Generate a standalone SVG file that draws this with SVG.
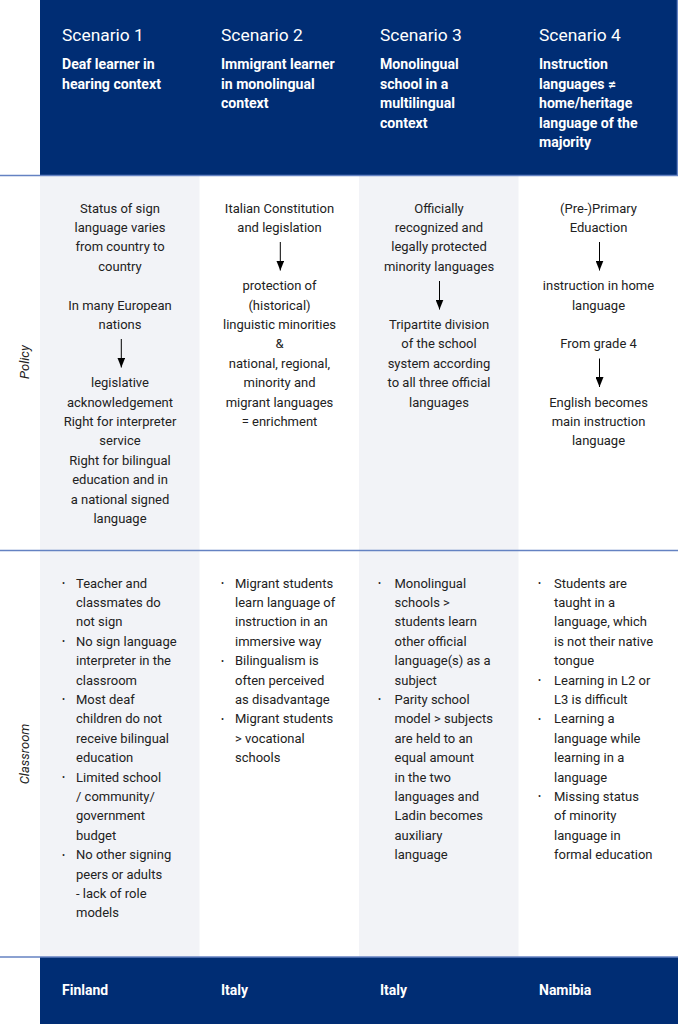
<svg xmlns="http://www.w3.org/2000/svg" width="678" height="1024" viewBox="0 0 678 1024">
<defs>
<style>
text{font-family:Roboto,"Liberation Sans",Arial,sans-serif;}
.title{font-size:17.4px;fill:#ffffff;}
.sub{font-size:14.1px;font-weight:700;fill:#ffffff;}
.body{font-size:13px;fill:#222222;}
.c{text-anchor:middle;}
.bul{font-size:9px;fill:#222222;}
.foot{font-size:14px;font-weight:700;fill:#ffffff;}
.lab{font-size:13px;font-style:italic;fill:#222222;text-anchor:middle;}
.navy{fill:#002d74;}
.grey{fill:#f2f3f7;}
.rule{stroke:#6482c2;stroke-width:1.3;fill:none;}
.arr{stroke:#000000;stroke-width:1;fill:none;marker-end:url(#ah);}
</style>
<marker id="ah" markerUnits="userSpaceOnUse" viewBox="0 -4 10 8" refX="10" refY="0" markerWidth="10" markerHeight="8" orient="auto">
<path d="M0,-4 L10,0 L0,4 z" fill="#000000"/>
</marker>
</defs>
<rect width="678" height="1024" fill="#ffffff"/>
<g id="background">
<rect class="grey" x="40" y="175" width="159.5" height="782"/>
<rect class="grey" x="359" y="175" width="159.5" height="782"/>
<rect class="navy" x="40" y="0" width="638" height="175.5"/>
<rect class="navy" x="40" y="957" width="638" height="67"/>
<line class="rule" x1="677.4" y1="0" x2="677.4" y2="175.5"/>
<line class="rule" x1="0" y1="175.5" x2="678" y2="175.5"/>
<line class="rule" x1="0" y1="550.5" x2="678" y2="550.5"/>
<line class="rule" x1="0" y1="957" x2="678" y2="957"/>
</g>
<g id="row-labels">
<text class="lab" transform="translate(29,362) rotate(-90)">Policy</text>
<text class="lab" transform="translate(29,754) rotate(-90)">Classroom</text>
</g>
<g id="header-1">
<text class="title" x="62" y="40.7">Scenario 1</text>
<text class="sub" x="62" y="69">Deaf learner in</text>
<text class="sub" x="62" y="88.5">hearing context</text>
</g>
<g id="header-2">
<text class="title" x="221" y="40.7">Scenario 2</text>
<text class="sub" x="221" y="69">Immigrant learner</text>
<text class="sub" x="221" y="88.5">in monolingual</text>
<text class="sub" x="221" y="108">context</text>
</g>
<g id="header-3">
<text class="title" x="380" y="40.7">Scenario 3</text>
<text class="sub" x="380" y="69">Monolingual</text>
<text class="sub" x="380" y="88.5">school in a</text>
<text class="sub" x="380" y="108">multilingual</text>
<text class="sub" x="380" y="127.5">context</text>
</g>
<g id="header-4">
<text class="title" x="539" y="40.7">Scenario 4</text>
<text class="sub" x="539" y="69">Instruction</text>
<text class="sub" x="539" y="88.5">languages ≠</text>
<text class="sub" x="539" y="108">home/heritage</text>
<text class="sub" x="539" y="127.5">language of the</text>
<text class="sub" x="539" y="147">majority</text>
</g>
<g id="policy-1">
<text class="body c" x="120" y="212.6">Status of sign</text>
<text class="body c" x="120" y="232">language varies</text>
<text class="body c" x="120" y="251.4">from country to</text>
<text class="body c" x="120" y="270.8">country</text>
<text class="body c" x="120" y="309.6">In many European</text>
<text class="body c" x="120" y="329">nations</text>
<text class="body c" x="120" y="387.2">legislative</text>
<text class="body c" x="120" y="406.6">acknowledgement</text>
<text class="body c" x="120" y="426">Right for interpreter</text>
<text class="body c" x="120" y="445.4">service</text>
<text class="body c" x="120" y="464.8">Right for bilingual</text>
<text class="body c" x="120" y="484.2">education and in</text>
<text class="body c" x="120" y="503.6">a national signed</text>
<text class="body c" x="120" y="523">language</text>
</g>
<g id="policy-2">
<text class="body c" x="279.5" y="212.6">Italian Constitution</text>
<text class="body c" x="279.5" y="232">and legislation</text>
<text class="body c" x="279.5" y="290.2">protection of</text>
<text class="body c" x="279.5" y="309.6">(historical)</text>
<text class="body c" x="279.5" y="329">linguistic minorities</text>
<text class="body c" x="279.5" y="348.4">&amp;</text>
<text class="body c" x="279.5" y="367.8">national, regional,</text>
<text class="body c" x="279.5" y="387.2">minority and</text>
<text class="body c" x="279.5" y="406.6">migrant languages</text>
<text class="body c" x="279.5" y="426">= enrichment</text>
</g>
<g id="policy-3">
<text class="body c" x="439" y="212.6">Officially</text>
<text class="body c" x="439" y="232">recognized and</text>
<text class="body c" x="439" y="251.4">legally protected</text>
<text class="body c" x="439" y="270.8">minority languages</text>
<text class="body c" x="439" y="329">Tripartite division</text>
<text class="body c" x="439" y="348.4">of the school</text>
<text class="body c" x="439" y="367.8">system according</text>
<text class="body c" x="439" y="387.2">to all three official</text>
<text class="body c" x="439" y="406.6">languages</text>
</g>
<g id="policy-4">
<text class="body c" x="598.5" y="212.6">(Pre-)Primary</text>
<text class="body c" x="598.5" y="232">Eduaction</text>
<text class="body c" x="598.5" y="290.2">instruction in home</text>
<text class="body c" x="598.5" y="309.6">language</text>
<text class="body c" x="598.5" y="348.4">From grade 4</text>
<text class="body c" x="598.5" y="406.6">English becomes</text>
<text class="body c" x="598.5" y="426">main instruction</text>
<text class="body c" x="598.5" y="445.4">language</text>
</g>
<g id="connectors">
<line class="arr" x1="121.3" y1="339" x2="121.3" y2="367.5"/>
<line class="arr" x1="280.3" y1="242" x2="280.3" y2="270.5"/>
<line class="arr" x1="439.5" y1="281" x2="439.5" y2="309.5"/>
<line class="arr" x1="599.5" y1="242" x2="599.5" y2="270.5"/>
<line class="arr" x1="599.5" y1="358.5" x2="599.5" y2="387"/>
</g>
<g id="classroom-1">
<text class="bul" x="62" y="586">•</text>
<text class="bul" x="62" y="644.2">•</text>
<text class="bul" x="62" y="702.4">•</text>
<text class="bul" x="62" y="780">•</text>
<text class="bul" x="62" y="857.6">•</text>
<text class="body" x="76" y="587.6">Teacher and</text>
<text class="body" x="76" y="607">classmates do</text>
<text class="body" x="76" y="626.4">not sign</text>
<text class="body" x="76" y="645.8">No sign language</text>
<text class="body" x="76" y="665.2">interpreter in the</text>
<text class="body" x="76" y="684.6">classroom</text>
<text class="body" x="76" y="704">Most deaf</text>
<text class="body" x="76" y="723.4">children do not</text>
<text class="body" x="76" y="742.8">receive bilingual</text>
<text class="body" x="76" y="762.2">education</text>
<text class="body" x="76" y="781.6">Limited school</text>
<text class="body" x="76" y="801">/ community/</text>
<text class="body" x="76" y="820.4">government</text>
<text class="body" x="76" y="839.8">budget</text>
<text class="body" x="76" y="859.2">No other signing</text>
<text class="body" x="76" y="878.6">peers or adults</text>
<text class="body" x="76" y="898">- lack of role</text>
<text class="body" x="76" y="917.4">models</text>
</g>
<g id="classroom-2">
<text class="bul" x="221" y="586">•</text>
<text class="bul" x="221" y="663.6">•</text>
<text class="bul" x="221" y="721.8">•</text>
<text class="body" x="235" y="587.6">Migrant students</text>
<text class="body" x="235" y="607">learn language of</text>
<text class="body" x="235" y="626.4">instruction in an</text>
<text class="body" x="235" y="645.8">immersive way</text>
<text class="body" x="235" y="665.2">Bilingualism is</text>
<text class="body" x="235" y="684.6">often perceived</text>
<text class="body" x="235" y="704">as disadvantage</text>
<text class="body" x="235" y="723.4">Migrant students</text>
<text class="body" x="235" y="742.8">&gt; vocational</text>
<text class="body" x="235" y="762.2">schools</text>
</g>
<g id="classroom-3">
<text class="bul" x="378" y="586">•</text>
<text class="bul" x="378" y="702.4">•</text>
<text class="body" x="394.5" y="587.6">Monolingual</text>
<text class="body" x="394.5" y="607">schools &gt;</text>
<text class="body" x="394.5" y="626.4">students learn</text>
<text class="body" x="394.5" y="645.8">other official</text>
<text class="body" x="394.5" y="665.2">language(s) as a</text>
<text class="body" x="394.5" y="684.6">subject</text>
<text class="body" x="394.5" y="704">Parity school</text>
<text class="body" x="394.5" y="723.4">model &gt; subjects</text>
<text class="body" x="394.5" y="742.8">are held to an</text>
<text class="body" x="394.5" y="762.2">equal amount</text>
<text class="body" x="394.5" y="781.6">in the two</text>
<text class="body" x="394.5" y="801">languages and</text>
<text class="body" x="394.5" y="820.4">Ladin becomes</text>
<text class="body" x="394.5" y="839.8">auxiliary</text>
<text class="body" x="394.5" y="859.2">language</text>
</g>
<g id="classroom-4">
<text class="bul" x="538" y="586">•</text>
<text class="bul" x="538" y="683">•</text>
<text class="bul" x="538" y="721.8">•</text>
<text class="bul" x="538" y="799.4">•</text>
<text class="body" x="554" y="587.6">Students are</text>
<text class="body" x="554" y="607">taught in a</text>
<text class="body" x="554" y="626.4">language, which</text>
<text class="body" x="554" y="645.8">is not their native</text>
<text class="body" x="554" y="665.2">tongue</text>
<text class="body" x="554" y="684.6">Learning in L2 or</text>
<text class="body" x="554" y="704">L3 is difficult</text>
<text class="body" x="554" y="723.4">Learning a</text>
<text class="body" x="554" y="742.8">language while</text>
<text class="body" x="554" y="762.2">learning in a</text>
<text class="body" x="554" y="781.6">language</text>
<text class="body" x="554" y="801">Missing status</text>
<text class="body" x="554" y="820.4">of minority</text>
<text class="body" x="554" y="839.8">language in</text>
<text class="body" x="554" y="859.2">formal education</text>
</g>
<g id="footer-1"><text class="foot" x="62" y="994.7">Finland</text></g>
<g id="footer-2"><text class="foot" x="221" y="994.7">Italy</text></g>
<g id="footer-3"><text class="foot" x="380" y="994.7">Italy</text></g>
<g id="footer-4"><text class="foot" x="539" y="994.7">Namibia</text></g>
</svg>
